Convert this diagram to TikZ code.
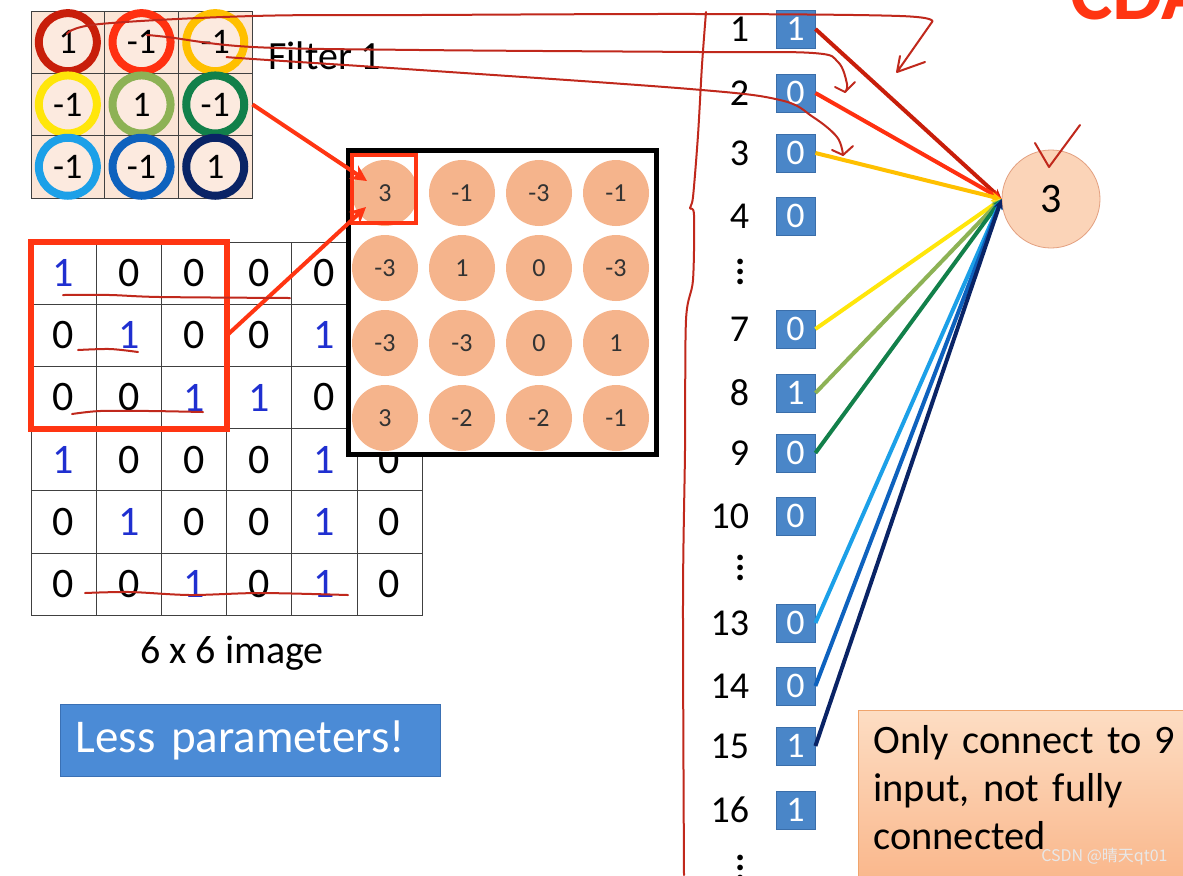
\documentclass[tikz,border=0pt]{standalone}
\usepackage{fontspec}
\setmainfont{Carlito}
\newfontfamily\cjkfont{Noto Sans CJK SC}
\usepackage{xcolor}
\usetikzlibrary{arrows.meta,positioning}

\definecolor{peach}{HTML}{FBE5D6}
\definecolor{ringin}{HTML}{FCEADF}
\definecolor{dotfill}{HTML}{F5B48C}
\definecolor{inblue}{HTML}{4A86C8}
\definecolor{sqedge}{HTML}{3A6EAA}
\definecolor{digblue}{HTML}{1F2FD0}
\definecolor{hot}{HTML}{FF3512}
\definecolor{pen}{HTML}{C0281C}
\definecolor{nrnfill}{HTML}{FBD4B8}
\definecolor{nrnedge}{HTML}{E3A080}
\definecolor{notetop}{HTML}{FDDDC3}
\definecolor{notebot}{HTML}{F9B487}
\definecolor{noteedge}{HTML}{F0A46C}
\definecolor{lessfill}{HTML}{4B8BD6}
\definecolor{lessedge}{HTML}{3A70B4}
% ring / wire colours
\definecolor{cA}{HTML}{C81E0A}
\definecolor{cB}{HTML}{FF3010}
\definecolor{cC}{HTML}{FFC000}
\definecolor{cD}{HTML}{FFE60A}
\definecolor{cE}{HTML}{8DB255}
\definecolor{cF}{HTML}{12804A}
\definecolor{cG}{HTML}{1CA0E8}
\definecolor{cH}{HTML}{0E62BE}
\definecolor{cI}{HTML}{0A2466}

\newcommand\tridots{\vbox{\baselineskip=5pt\lineskiplimit=0pt\hbox{.}\hbox{.}\hbox{.}}}

\begin{document}
\begin{tikzpicture}[
    x=0.5pt, y=-0.5pt,
    fcell/.style={draw=black!75, fill=peach, minimum width=36.85pt, minimum height=31.15pt, inner sep=0pt},
    ring/.style={circle, line width=4pt, fill=ringin, minimum size=29pt, inner sep=0pt, font=\fontsize{18}{18}\selectfont},
    icell/.style={draw=black!75, fill=white, minimum width=32.6pt, minimum height=31.1pt, inner sep=0pt, font=\fontsize{21}{21}\selectfont},
    mapdot/.style={circle, fill=dotfill, minimum size=33pt, inner sep=0pt, font=\fontsize{13}{13}\selectfont, text=black!80},
    insq/.style={draw=sqedge, fill=inblue, minimum width=19.5pt, minimum height=19pt, inner sep=0pt, text=white, font=\fontsize{18}{18}\selectfont},
    num/.style={inner sep=0pt, font=\fontsize{19}{19}\selectfont},
    nrn/.style={circle, draw=nrnedge, fill=nrnfill, minimum size=49pt, inner sep=0pt, font=\fontsize{21}{21}\selectfont},
    wire/.style={-{Stealth[length=5pt,width=4.5pt]}, line width=2pt},
    hotarr/.style={-{Stealth[length=8pt,width=8pt]}, draw=hot, line width=2pt},
    pen/.style={draw=pen, line width=1pt, line cap=round, line join=round},
    capt/.style={inner sep=0pt, font=\fontsize{20}{20}\selectfont},
]
\fill[white] (0,0) rectangle (1183,875);
\useasboundingbox (0,0) rectangle (1183,875);

% Filter 1
\foreach \v/\col [count=\k from 0] in {1/cA,-1/cB,-1/cC,-1/cD,1/cE,-1/cF,-1/cG,-1/cH,1/cI} {
  \pgfmathtruncatemacro{\rr}{\k/3}
  \pgfmathtruncatemacro{\cc}{mod(\k,3)}
  \node[fcell] (fc\k) at ({67.85+73.7*\cc},{42.15+62.3*\rr}) {};
  \node[ring, draw=\col] (f\k) at (fc\k) {\v};
}
\node[capt, anchor=west] (ftitle) at (268,56) {Filter 1};

% 6 x 6 image
\foreach \v [count=\k from 0] in {1,0,0,0,0,1, 0,1,0,0,1,0, 0,0,1,1,0,0, 1,0,0,0,1,0, 0,1,0,0,1,0, 0,0,1,0,1,0} {
  \pgfmathtruncatemacro{\rr}{\k/6}
  \pgfmathtruncatemacro{\cc}{mod(\k,6)}
  \ifnum\v=1 \def\tc{digblue}\else\def\tc{black}\fi
  \node[icell, text=\tc] (im\k) at ({63.6+65.2*\cc},{273.1+62.2*\rr}) {\v};
}
\draw[hot, line width=3pt] (im0.north west) rectangle (im14.south east);
\node[capt] (imgcap) at (232,653) {6 x 6 image};

% Feature map
\node[draw, line width=2.5pt, fill=white, minimum width=154pt, minimum height=152pt, inner sep=0pt] (fmap) at (502.5,302.5) {};
\foreach \v [count=\k from 0] in {3,-1,-3,-1, -3,1,0,-3, -3,-3,0,1, 3,-2,-2,-1} {
  \pgfmathtruncatemacro{\rr}{\k/4}
  \pgfmathtruncatemacro{\cc}{mod(\k,4)}
  \node[mapdot] (m\k) at ({385+77*\cc},{193+75*\rr}) {\v};
}
\node[draw=hot, line width=2pt, minimum width=32pt, minimum height=34pt, inner sep=0pt] (pick) at (384,189) {};

% Red arrows into the first output
\coordinate (tipA) at (367,181);
\coordinate (tipB) at (366,207);
\draw[hotarr] (fc5.east) -- (tipA);
\draw[hotarr] (im8.east) -- (tipB);

% Flattened input
\foreach \n/\v/\y in {1/1/29,2/0/93,3/0/153,4/0/216,7/0/329,8/1/393,9/0/453,10/0/516,13/0/623,14/0/686,15/1/746,16/1/810} {
  \node[insq] (in\n) at (795.5,\y) {\v};
  \node[num, left=13pt of in\n] (lab\n) {\n};
}
\node[num, font=\bfseries\fontsize{19}{19}\selectfont] (gapA) at (741,272) {\tridots};
\node[num, font=\bfseries\fontsize{19}{19}\selectfont] (gapB) at (741,568) {\tridots};
\node[num, font=\bfseries\fontsize{19}{19}\selectfont] (gapC) at (741,868) {\tridots};

% Output neuron and its 9 connections
\node[nrn] (out) at (1051,199) {3};
\foreach \n/\col in {1/cA,2/cB,3/cC,7/cD,8/cE,9/cF,13/cG,14/cH,15/cI}
  \draw[wire, draw=\col] (in\n.east) -- (out.west);

% Boxes
\node[draw=lessedge, fill=lessfill, text=white, text width=175pt, align=left, inner xsep=7.5pt, minimum height=36pt, font=\fontsize{23.5}{28}\selectfont] (less) at (250.5,740) {Less parameters!};
\node[draw=noteedge, top color=notetop, bottom color=notebot, text width=160pt, align=left, inner xsep=7.5pt, inner ysep=7.5pt, anchor=north west, font=\fontsize{20.2}{24}\selectfont] (note) at (858,710) {Only connect to 9\\input, not fully\\connected\rule[-15pt]{0pt}{1pt}};
\node[anchor=east, inner sep=0pt, text=white!82!gray, font=\cjkfont\fontsize{8}{8}\selectfont] (mark) at (1168,857) {CSDN @晴天qt01};
\node[anchor=base west, inner sep=0pt, text=hot, font=\bfseries\fontsize{40}{40}\selectfont] (logo) at (1070,19) {CDA};

% Hand-drawn annotations
\draw[pen] plot[smooth, tension=0.6] coordinates {(67,34) (100,24) (253,16) (420,15) (700,14) (900,16) (932,22)};
\draw[pen] (932,22) -- (897,72) -- (900,56) (897,72) -- (925,62);
\draw[pen] plot[smooth, tension=0.6] coordinates {(147,35) (167,37) (253,47) (420,50) (700,52) (813,53) (838,62) (847,84) (845,92)};
\draw[pen] (845,92) -- (835,87) (845,92) -- (855,82);
\draw[pen] plot[smooth, tension=0.6] coordinates {(227,57) (253,59) (420,70) (690,89) (780,100) (813,117) (837,137) (843,155)};
\draw[pen] (843,155) -- (832,150) (843,155) -- (853,146);
\draw[pen] plot[smooth, tension=0.5] coordinates {(706,12) (702,65) (698,135) (693,197) (690,208) (694,215) (693,280) (686,320) (685,450) (683,600) (684,875)};
\draw[pen] (1035,143) -- (1049,167) -- (1080,125);
\draw[pen] plot[smooth] coordinates {(63,295) (110,295) (160,297) (290,298)};
\draw[pen] plot[smooth] coordinates {(78,350) (110,349) (138,352)};
\draw[pen] plot[smooth] coordinates {(72,414) (100,411) (150,411) (203,412)};
\draw[pen] plot[smooth] coordinates {(85,593) (130,592) (190,595) (260,593) (348,595)};
\end{tikzpicture}
\end{document}
